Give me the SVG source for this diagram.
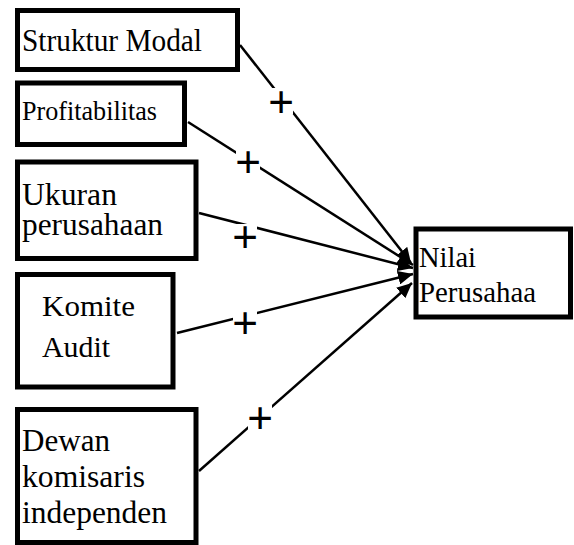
<svg xmlns="http://www.w3.org/2000/svg" width="574" height="545" viewBox="0 0 574 545">
<style>
.box{fill:#fff;stroke:#000;stroke-width:5}
.lbl{font-family:"Liberation Serif","Times New Roman",serif;fill:#000}
.conn{stroke:#000;stroke-width:2.5;fill:none;marker-end:url(#arr)}
.plus{font-family:"Liberation Sans",Arial,sans-serif;font-size:44px;text-anchor:middle;fill:#000}
.pbg{fill:#fff}
</style>
<defs>
<marker id="arr" markerUnits="userSpaceOnUse" markerWidth="16" markerHeight="14" refX="15" refY="7" orient="auto">
<path d="M0,0 L15,7 L0,14 z" fill="#000"/>
</marker>
</defs>
<rect width="574" height="545" fill="#fff"/>
<g id="connectors">
<line class="conn" x1="240" y1="45" x2="411" y2="263"/>
<line class="conn" x1="188" y1="122" x2="413" y2="265"/>
<line class="conn" x1="199" y1="213" x2="413" y2="268"/>
<line class="conn" x1="177" y1="333" x2="413" y2="274"/>
<line class="conn" x1="199" y1="471" x2="412" y2="283"/>
</g>
<g id="labels">
<rect class="pbg" x="269" y="88" width="24" height="26"/>
<text class="plus" x="281" y="117">+</text>
<rect class="pbg" x="236" y="149" width="24" height="26"/>
<text class="plus" x="248" y="177">+</text>
<rect class="pbg" x="233" y="224" width="24" height="26"/>
<text class="plus" x="245" y="252">+</text>
<rect class="pbg" x="233" y="310" width="24" height="26"/>
<text class="plus" x="245" y="338">+</text>
<rect class="pbg" x="248" y="405" width="24" height="26"/>
<text class="plus" x="260" y="433">+</text>
</g>
<g id="struktur-modal">
<rect class="box" x="17.5" y="10.5" width="220" height="59"/>
<text class="lbl" x="22" y="51" font-size="31" textLength="180" lengthAdjust="spacingAndGlyphs">Struktur Modal</text>
</g>
<g id="profitabilitas">
<rect class="box" x="17.5" y="83" width="167" height="61.5"/>
<text class="lbl" x="22" y="120" font-size="27" textLength="135" lengthAdjust="spacingAndGlyphs">Profitabilitas</text>
</g>
<g id="ukuran-perusahaan">
<rect class="box" x="17.5" y="162" width="178.5" height="96.5"/>
<text class="lbl" x="22" y="205" font-size="31" textLength="95" lengthAdjust="spacingAndGlyphs">Ukuran</text>
<text class="lbl" x="22" y="235" font-size="31" textLength="141" lengthAdjust="spacingAndGlyphs">perusahaan</text>
</g>
<g id="komite-audit">
<rect class="box" x="17.5" y="274.5" width="155.5" height="112.5"/>
<text class="lbl" x="42" y="316" font-size="30" textLength="93" lengthAdjust="spacingAndGlyphs">Komite</text>
<text class="lbl" x="42" y="357" font-size="30" textLength="68" lengthAdjust="spacingAndGlyphs">Audit</text>
</g>
<g id="dewan-komisaris">
<rect class="box" x="17.5" y="409.5" width="178.5" height="133"/>
<text class="lbl" x="22" y="451" font-size="31" textLength="88" lengthAdjust="spacingAndGlyphs">Dewan</text>
<text class="lbl" x="22" y="487" font-size="31" textLength="123" lengthAdjust="spacingAndGlyphs">komisaris</text>
<text class="lbl" x="22" y="523" font-size="31" textLength="145" lengthAdjust="spacingAndGlyphs">independen</text>
</g>
<g id="nilai-perusahaan">
<rect class="box" x="416" y="229" width="154.5" height="88"/>
<text class="lbl" x="419" y="267" font-size="29" textLength="57" lengthAdjust="spacingAndGlyphs">Nilai</text>
<text class="lbl" x="419" y="302" font-size="29" textLength="117" lengthAdjust="spacingAndGlyphs">Perusahaa</text>
</g>
</svg>
